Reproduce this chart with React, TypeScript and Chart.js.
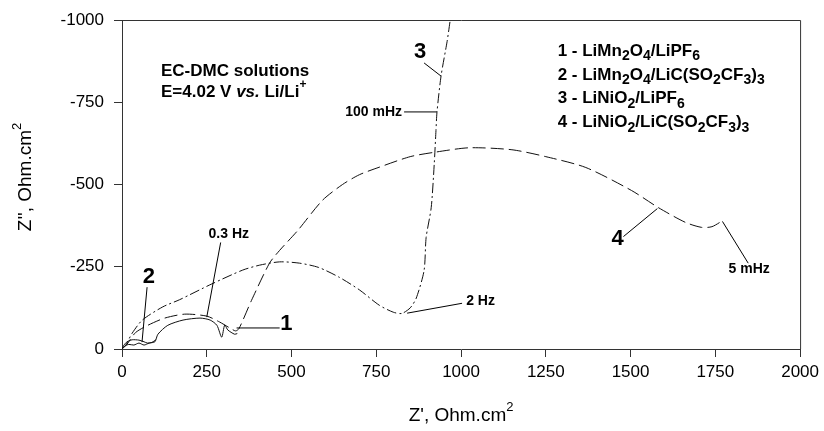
import React, { useEffect, useRef } from 'react';
import { Chart, registerables } from 'chart.js';
Chart.register(...registerables);

// ---- Data (Z' in Ohm.cm2, Z'' in Ohm.cm2) ----
const curve1X = [0, 10, 20, 35, 50, 65, 80, 97, 106, 135, 180, 230, 260, 280, 294, 303, 312, 332, 340];
const curve1Y = [0, -10, -14, -12, -18, -12, -18, -22, -45, -72, -88, -94, -88, -72, -36, -73, -58, -45, -47];

const curve2X = [0, 6, 15, 30, 50, 65, 75, 88, 100];
const curve2Y = [0, -12, -22, -28, -27, -22, -18, -20, -28];

const curve3X = [0, 10, 30, 60, 120, 170, 265, 356, 406, 465, 524, 580, 641, 700, 759, 800, 825, 850, 868, 891, 897, 912, 921, 926, 929, 941, 959, 968];
const curve3Y = [0, -10, -48, -88, -128, -150, -198, -240, -255, -265, -261, -248, -218, -180, -133, -112, -108, -125, -155, -239, -339, -430, -564, -664, -720, -830, -936, -1000];

const curve4X = [0, 15, 40, 76, 126, 185, 250, 288, 318, 335, 345, 382, 435, 465, 518, 591, 650, 700, 759, 850, 926, 1024, 1150, 1250, 1368, 1503, 1582, 1662, 1709, 1740, 1771];
const curve4Y = [0, -15, -50, -72, -94, -106, -100, -82, -64, -55, -62, -148, -261, -300, -360, -452, -500, -530, -553, -585, -599, -612, -606, -585, -552, -482, -430, -385, -370, -372, -390];

const xTickStep = 250;
const yTickStep = 250;

type Seg = [string, string];

const legendRows: Seg[][] = [
  [['1 - LiMn', 'n'], ['2', 's'], ['O', 'n'], ['4', 's'], ['/LiPF', 'n'], ['6', 's']],
  [['2 - LiMn', 'n'], ['2', 's'], ['O', 'n'], ['4', 's'], ['/LiC(SO', 'n'], ['2', 's'], ['CF', 'n'], ['3', 's'], [')', 'n'], ['3', 's']],
  [['3 - LiNiO', 'n'], ['2', 's'], ['/LiPF', 'n'], ['6', 's']],
  [['4 - LiNiO', 'n'], ['2', 's'], ['/LiC(SO', 'n'], ['2', 's'], ['CF', 'n'], ['3', 's'], [')', 'n'], ['3', 's']],
];
const legendYs = [-906, -833, -761, -688];

const FAM = '"Liberation Sans", Arial, Helvetica, sans-serif';

function drawRich(ctx: CanvasRenderingContext2D, segs: Seg[], x: number, y: number, size: number, align: string, bold: boolean) {
  const w = bold ? 'bold ' : '';
  const fontFor = (k: string) => {
    if (k === 's') return `${w}${Math.round(size * 0.82)}px ${FAM}`;
    if (k === 'p') return `${w}${Math.round(size * 0.7)}px ${FAM}`;
    if (k === 'i') return `italic ${w}${size}px ${FAM}`;
    return `${w}${size}px ${FAM}`;
  };
  let total = 0;
  for (const [t, k] of segs) {
    ctx.font = fontFor(k);
    total += ctx.measureText(t).width;
  }
  let cx = align === 'center' ? x - total / 2 : align === 'right' ? x - total : x;
  ctx.textBaseline = 'middle';
  ctx.textAlign = 'left';
  for (const [t, k] of segs) {
    ctx.font = fontFor(k);
    const dy = k === 's' ? size * 0.3 : k === 'p' ? -size * 0.45 : 0;
    ctx.fillText(t, cx, y + dy);
    cx += ctx.measureText(t).width;
  }
}

// annotations in data coordinates
const leaders = [
  [891, -870, 941, -830],
  [832, -721, 929, -721],
  [291, -324, 250, -97],
  [74, -188, 59, -21],
  [465, -64, 338, -64],
  [1479, -342, 1579, -427],
  [1847, -261, 1771, -388],
  [1003, -139, 841, -109],
];
const texts: { segs: Seg[]; x: number; y: number; size: number; align: string }[] = [
  { segs: [['3', 'n']], x: 879, y: -903, size: 22, align: 'center' },
  { segs: [['100 mHz', 'n']], x: 826, y: -721, size: 14, align: 'right' },
  { segs: [['0.3 Hz', 'n']], x: 315, y: -348, size: 14, align: 'center' },
  { segs: [['2', 'n']], x: 79, y: -218, size: 22, align: 'center' },
  { segs: [['1', 'n']], x: 485, y: -76, size: 22, align: 'center' },
  { segs: [['4', 'n']], x: 1462, y: -336, size: 22, align: 'center' },
  { segs: [['5 mHz', 'n']], x: 1850, y: -242, size: 14, align: 'center' },
  { segs: [['2 Hz', 'n']], x: 1015, y: -145, size: 14, align: 'left' },
  { segs: [['EC-DMC solutions', 'n']], x: 115, y: -845, size: 17, align: 'left' },
  { segs: [['E=4.02 V ', 'n'], ['vs.', 'i'], [' Li/Li', 'n'], ['+', 'p']], x: 115, y: -782, size: 17, align: 'left' },
];

const toPts = (xs: number[], ys: number[]) => xs.map((x, i) => ({ x, y: ys[i] }));

const decor = {
  id: 'decor',
  afterDraw(chart: any) {
    const { ctx, chartArea: a, scales } = chart;
    const xs = scales.x, ys = scales.y;
    ctx.save();
    // frame
    ctx.strokeStyle = '#333';
    ctx.lineWidth = 1;
    ctx.beginPath();
    ctx.moveTo(a.left, Math.round(a.top) + 0.5);
    ctx.lineTo(a.right + 0.5, Math.round(a.top) + 0.5);
    ctx.lineTo(a.right + 0.5, a.bottom);
    ctx.stroke();
    // leaders
    ctx.strokeStyle = '#000';
    ctx.lineWidth = 1;
    for (const [x1, y1, x2, y2] of leaders) {
      ctx.beginPath();
      ctx.moveTo(xs.getPixelForValue(x1), ys.getPixelForValue(y1));
      ctx.lineTo(xs.getPixelForValue(x2), ys.getPixelForValue(y2));
      ctx.stroke();
    }
    ctx.fillStyle = '#000';
    for (const t of texts) {
      drawRich(ctx, t.segs, xs.getPixelForValue(t.x), ys.getPixelForValue(t.y), t.size, t.align, true);
    }
    legendRows.forEach((row, i) => {
      drawRich(ctx, row, xs.getPixelForValue(1285), ys.getPixelForValue(legendYs[i]), 17, 'left', true);
    });
    // axis titles
    drawRich(ctx, [["Z', Ohm.cm", 'n'], ['2', 'p']], (a.left + a.right) / 2, 416, 19, 'center', false);
    ctx.translate(26, 177);
    ctx.rotate(-Math.PI / 2);
    drawRich(ctx, [["Z'', Ohm.cm", 'n'], ['2', 'p']], 0, 0, 19, 'center', false);
    ctx.restore();
  },
};

export default function App() {
  const ref = useRef<HTMLCanvasElement>(null);
  useEffect(() => {
    document.body.style.margin = '0';
    const line = (data: any, dash: number[]) => ({
      data,
      showLine: true,
      borderColor: '#111',
      borderWidth: 1,
      borderDash: dash,
      pointRadius: 0,
      tension: 0.25,
      fill: false,
    });
    const chart = new Chart(ref.current!, {
      type: 'scatter',
      data: {
        datasets: [
          line(toPts(curve1X, curve1Y), []),
          line(toPts(curve2X, curve2Y), []),
          line(toPts(curve3X, curve3Y), [10, 3, 2, 3]),
          line(toPts(curve4X, curve4Y), [13, 5]),
        ],
      },
      options: {
        animation: false,
        responsive: false,
        layout: { padding: { top: 19, right: 22, left: 0, bottom: 0 } },
        plugins: { legend: { display: false }, tooltip: { enabled: false } },
        scales: {
          x: {
            type: 'linear',
            min: 0,
            max: 2000,
            afterFit: (s: any) => { s.height = 82; },
            ticks: { stepSize: xTickStep, color: '#000', padding: 5, font: { size: 17, family: FAM }, callback: (v: any) => String(v), maxRotation: 0 },
            grid: { display: true, drawOnChartArea: false, drawTicks: true, tickLength: 8, color: '#333' },
            border: { display: true, color: '#333' },
          },
          y: {
            type: 'linear',
            min: -1000,
            max: 0,
            reverse: true,
            afterFit: (s: any) => { s.width = 122; },
            ticks: { stepSize: yTickStep, color: '#000', padding: 10, font: { size: 17, family: FAM }, callback: (v: any) => String(v) },
            grid: { display: true, drawOnChartArea: false, drawTicks: true, tickLength: 8, color: '#333' },
            border: { display: true, color: '#333' },
          },
        },
      },
      plugins: [decor],
    });
    return () => chart.destroy();
  }, []);
  return (
    <div style={{ width: 824, height: 431 }}>
      <canvas ref={ref} width={824} height={431} />
    </div>
  );
}
